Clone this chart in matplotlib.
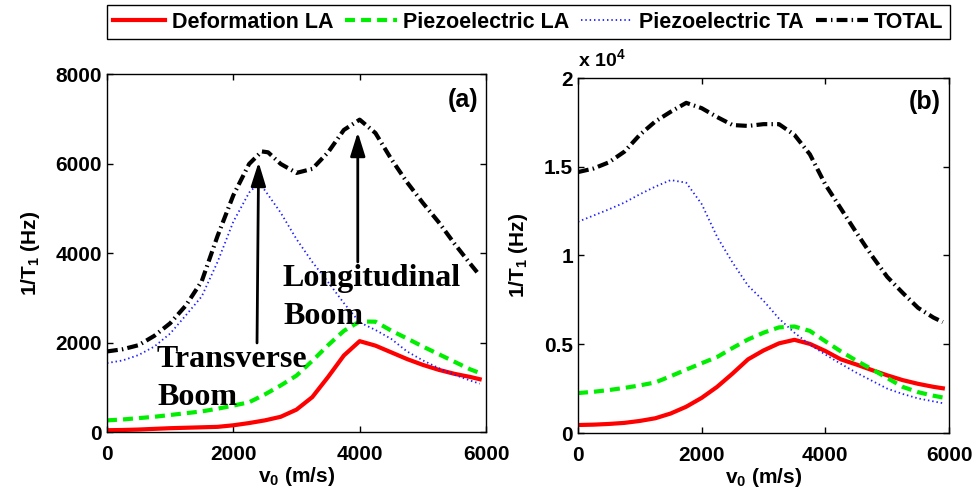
import matplotlib
matplotlib.use('Agg')
from matplotlib import pyplot as plt
from matplotlib.lines import Line2D

plt.rcParams['font.family'] = ['Liberation Sans', 'DejaVu Sans']
plt.rcParams['font.weight'] = 'bold'
plt.rcParams['mathtext.fontset'] = 'custom'
plt.rcParams['mathtext.rm'] = 'Liberation Sans:bold'
plt.rcParams['mathtext.bf'] = 'Liberation Sans:bold'

# ---- data (v0 in m/s, 1/T1 in Hz) ----
v_grid = [0, 250, 500, 750, 1000, 1250, 1500, 1750, 2000, 2250, 2500, 2750, 3000,
          3250, 3500, 3750, 4000, 4250, 4500, 4750, 5000, 5250, 5500, 5750, 5900]

# panel (a)
def_la_a = [40, 45, 55, 70, 85, 95, 105, 115, 150, 200, 260, 340, 500,
            780, 1230, 1710, 2030, 1930, 1780, 1630, 1500, 1390, 1300, 1230, 1180]
pz_la_a = [260, 280, 310, 340, 380, 420, 460, 520, 590, 665, 840, 1040, 1260,
           1590, 1940, 2260, 2470, 2465, 2265, 2090, 1910, 1740, 1570, 1400, 1320]
v_ta_a = [0, 250, 500, 750, 1000, 1250, 1500, 1750, 2000, 2250, 2400, 2500, 2750,
          3000, 3250, 3500, 3750, 4000, 4250, 4500, 4750, 5000, 5250, 5500, 5750, 5900]
pz_ta_a = [1540, 1600, 1720, 1910, 2200, 2610, 3030, 3800, 4700, 5350, 5560, 5400, 4900,
           4310, 3800, 3350, 2880, 2450, 2280, 2080, 1800, 1600, 1430, 1280, 1150, 1080]
v_tot_a = [0, 250, 500, 750, 1000, 1250, 1500, 1750, 2000, 2250, 2450, 2550, 2750,
           3000, 3250, 3500, 3750, 4000, 4250, 4500, 4750, 5000, 5250, 5500, 5750, 5900]
total_a = [1800, 1850, 1940, 2150, 2430, 2830, 3370, 4380, 5290, 5990, 6270, 6250, 5990,
           5790, 5880, 6250, 6750, 6980, 6680, 6100, 5580, 5120, 4690, 4210, 3760, 3500]

# panel (b)
def_la_b = [450, 470, 510, 570, 680, 830, 1100, 1480, 1980, 2600, 3350, 4150, 4650,
            5050, 5250, 5020, 4620, 4150, 3860, 3550, 3250, 2980, 2770, 2600, 2520]
pz_la_b = [2250, 2320, 2420, 2540, 2680, 2850, 3200, 3570, 3930, 4280, 4790, 5270, 5650,
           5950, 6000, 5750, 5170, 4600, 4080, 3600, 3100, 2600, 2300, 2100, 2000]
pz_ta_b = [11900, 12250, 12600, 12980, 13450, 13880, 14250, 14100, 12900, 11050, 9600, 8300, 7450,
           6450, 5650, 4980, 4420, 3900, 3400, 2950, 2500, 2200, 1950, 1780, 1680]
total_b = [14700, 14900, 15250, 15850, 16800, 17550, 18100, 18600, 18300, 17800, 17350, 17300, 17400,
           17400, 16800, 15700, 14000, 12650, 11300, 10000, 8800, 7900, 7050, 6500, 6250]

labels = ['Deformation LA', 'Piezoelectric LA', 'Piezoelectric TA', 'TOTAL']

sty_def = dict(color='#ff0000', lw=3, linestyle='-')
sty_la = dict(color='#00ee00', lw=3, linestyle=(0, (2.4, 1.45)))
sty_ta = dict(color='#2020ff', lw=1.3, linestyle=(0, (0.8, 1.6)))
sty_tot = dict(color='k', lw=3, linestyle=(0, (2.6, 1.0, 0.35, 1.0)))

fig = plt.figure(figsize=(9.8, 4.98), dpi=100)
ax1 = fig.add_axes([107/980, 1-432/498, 379/980, 358/498])
ax2 = fig.add_axes([578/980, 1-433/498, 371/980, 355/498])

ax1.plot(v_grid, def_la_a, **sty_def)
ax1.plot(v_grid, pz_la_a, **sty_la)
ax1.plot(v_ta_a, pz_ta_a, **sty_ta)
ax1.plot(v_tot_a, total_a, **sty_tot)

ax2.plot(v_grid, def_la_b, **sty_def)
ax2.plot(v_grid, pz_la_b, **sty_la)
ax2.plot(v_grid, pz_ta_b, **sty_ta)
ax2.plot(v_grid, total_b, **sty_tot)

for ax in (ax1, ax2):
    ax.set_xlim(0, 6000)
    ax.set_xticks([0, 2000, 4000, 6000])
    ax.tick_params(direction='in', top=True, right=True, length=4, width=1,
                   labelsize=15)
    ax.tick_params(axis='x', pad=9)
    ax.tick_params(axis='y', pad=3.5)
    for s in ax.spines.values():
        s.set_linewidth(1)
    ax.set_xlabel('v$_\\mathregular{0}$ (m/s)', fontsize=15, fontweight='bold')
    ax.set_ylabel('1/T$_\\mathregular{1}$ (Hz)', fontsize=15, fontweight='bold')

ax1.set_ylim(0, 8000)
ax1.set_yticks([0, 2000, 4000, 6000, 8000])
ax2.set_ylim(0, 20000)
ax2.set_yticks([0, 5000, 10000, 15000, 20000])
ax2.set_yticklabels(['0', '0.5', '1', '1.5', '2'])

ax1.yaxis.set_label_coords(-0.1715, 0.5)
ax2.yaxis.set_label_coords(-0.129, 0.5)
ax1.xaxis.set_label_coords(0.5, -0.092)
ax2.xaxis.set_label_coords(0.5, -0.093)

ax2.text(0.0, 1.02, 'x 10$^\\mathregular{4}$', transform=ax2.transAxes,
         ha='left', va='bottom', fontsize=14, fontweight='bold')

ax1.text(0.979, 0.961, '(a)', transform=ax1.transAxes, ha='right', va='top',
         fontsize=18, fontweight='bold')
ax2.text(0.978, 0.966, '(b)', transform=ax2.transAxes, ha='right', va='top',
         fontsize=18, fontweight='bold')

# annotations in panel (a)
arr = dict(arrowstyle='-|>,head_length=0.8,head_width=0.25', lw=2, color='k',
           shrinkA=0, shrinkB=0, mutation_scale=18)
ax1.annotate('', xy=(2400, 6030), xytext=(2375, 1990), arrowprops=arr)
ax1.annotate('', xy=(3970, 6700), xytext=(3970, 3800), arrowprops=arr)

serif = dict(family='Liberation Serif', fontweight='bold', fontsize=23,
             ha='left', va='baseline')
ax1.text(2786, 3262, 'Longitudinal', **serif)
ax1.text(2786, 2413, 'Boom', **serif)
ax1.text(792, 1453, 'Transverse', **serif)
ax1.text(792, 603, 'Boom', **serif)

handles = [Line2D([], [], **sty_def), Line2D([], [], **sty_la),
           Line2D([], [], **sty_ta), Line2D([], [], **sty_tot)]
leg = fig.legend(handles, labels, loc='lower left',
                 bbox_to_anchor=(107/980, 1-39/498, 843/980, 35/498),
                 ncol=4, mode='expand', borderaxespad=0, fontsize=15.5,
                 handlelength=2.4, handletextpad=0.3, columnspacing=0.4,
                 frameon=True, fancybox=False, framealpha=1, edgecolor='k',
                 borderpad=0.3)
leg.get_frame().set_linewidth(1)

fig.savefig('out.png', dpi=100)
